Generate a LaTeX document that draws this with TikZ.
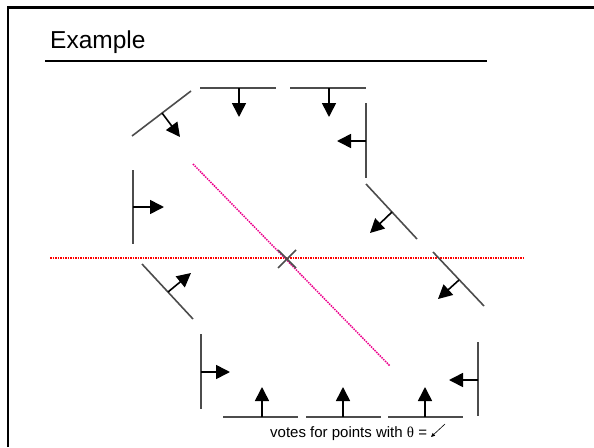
\documentclass[tikz,border=0pt]{standalone}
\usepackage{fontspec}
\setmainfont{Liberation Sans}
\newfontfamily\thetafont{Liberation Serif}
\usetikzlibrary{arrows.meta}

\tikzset{
  edgel/.style={line width=1.6pt, draw=black!70},
  normal/.style={line width=1.6pt, -{Triangle[length=14pt,width=14pt]}},
  houghline/.style={line width=1.5pt, densely dotted},
}

\begin{document}
\begin{tikzpicture}[x=1pt, y=-1pt]
  \useasboundingbox (0,0) rectangle (594,447);
  % Slide frame
  \draw[line width=2.6pt] (8,447) -- (8,7.5) -- (594,7.5);
  % Title and rule
  \node[anchor=base west, inner sep=0, font=\fontsize{24.5}{28}\selectfont] (title) at (50,48) {Example};
  \draw[line width=2pt] (45,61) -- (487,61);
  % Hough lines
  \draw[houghline, red] (50,258) -- (523,258);
  \draw[houghline, magenta] (193,164) -- (390,366);
  % Edge points with their normals
  \foreach \xa/\ya/\xb/\yb/\xc/\yc/\xd/\yd in {
      132/136/191/91/162/113/180/137,
      200/88/276/88/239/88/239/117,
      290/88/366/88/329/88/329/117,
      366/103/366/178/366/141/337/141,
      366/184/417/239/392/212/370/233,
      133/170/133/244/133/207/164/207,
      142/264/193/319/168/292/191/273,
      201/334/201/409/201/372/230/372,
      223/417/298/417/262/417/262/387,
      306/417/381/417/343/417/343/387,
      388/417/463/417/425/417/425/387,
      478/342/478/416/478/380/449/380,
      433/252/484/306/459/280/438/299} {
    \draw[edgel] (\xa,\ya) -- (\xb,\yb);
    \draw[normal] (\xc,\yc) -- (\xd,\yd);
  }
  % Intersection mark
  \draw[edgel] (278,250) -- (296,268);
  \draw[edgel] (278,268) -- (296,250);
  % Caption
  \node[anchor=base west, inner sep=0, font=\fontsize{15}{18}\selectfont] (caption) at (270,437)
    {votes for points with {\thetafont θ} =};
  \coordinate (dirA) at (445,424);
  \coordinate (dirB) at (431,437);
  \draw[line width=0.6pt, -{Triangle[length=4pt,width=3.5pt]}] (dirA) -- (dirB);
\end{tikzpicture}
\end{document}
